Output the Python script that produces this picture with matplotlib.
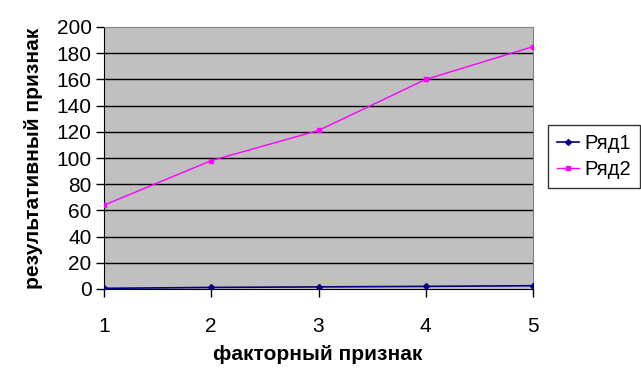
import matplotlib
matplotlib.use("Agg")
import matplotlib.pyplot as plt

x = [1, 2, 3, 4, 5]
ryad1 = [0.5, 1.2, 1.6, 2.0, 2.5]
ryad2 = [64, 98, 121, 160, 185]
yticks = list(range(0, 201, 20))

plt.rcParams['font.family'] = ['Liberation Sans', 'DejaVu Sans']

W, H = 641, 386
fig = plt.figure(figsize=(W/100, H/100), dpi=100)
ax = fig.add_axes([104/W, 1-289/H, (533-104)/W, (289-27)/H])
ax.set_facecolor('#c0c0c0')

for v in yticks[1:-1]:
    ax.axhline(v, color='black', linewidth=1, zorder=1)

ax.plot(x, ryad1, color='#000080', marker='D', markersize=3, linewidth=1.2, label='Ряд1', zorder=3)
ax.plot(x, ryad2, color='#ff00ff', marker='s', markersize=3.5, linewidth=1, label='Ряд2', zorder=3)

ax.set_xlim(1, 5)
ax.set_ylim(0, 200)
ax.set_xticks(x)
ax.set_yticks(yticks)
ax.tick_params(axis='both', direction='out', length=6, width=1, labelsize=15, colors='black')
ax.tick_params(axis='x', pad=14)
ax.tick_params(axis='y', pad=3)

for s in ['top', 'right']:
    ax.spines[s].set_color('#808080')
ax.spines['left'].set_color('black')
ax.spines['bottom'].set_color('black')

fig.text(318/W, 1-355/H, 'факторный признак', fontsize=15, fontweight='bold',
         ha='center', va='center')
fig.text(34/W, 1-158/H, 'результативный признак', fontsize=15, fontweight='bold',
         ha='center', va='center', rotation=90)

leg = ax.legend(loc='upper left', bbox_to_anchor=(548/W, 1-125/H), bbox_transform=fig.transFigure,
                fontsize=14.5, frameon=True, fancybox=False, edgecolor='black',
                handlelength=1.1, handletextpad=0.25, borderpad=0.45, labelspacing=0.35, borderaxespad=0)
leg.get_frame().set_linewidth(1)

fig.savefig('out.png', dpi=100)
